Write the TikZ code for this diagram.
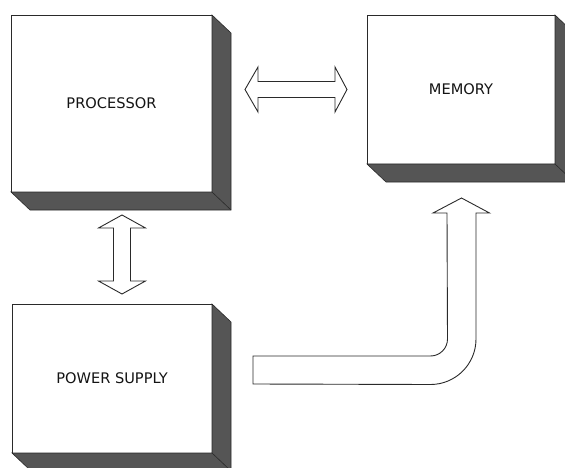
\documentclass[tikz,border=0pt]{standalone}
\usepackage{fontspec}
\setmainfont{DejaVu Sans}
\usepackage{tikz}
\usetikzlibrary{arrows.meta,calc}
\definecolor{sidegray}{HTML}{555555}
\definecolor{inkgray}{HTML}{2A2A2A}

\begin{document}
\begin{tikzpicture}[x=1pt,y=-1pt,
  unit/.style={draw=inkgray,fill=white,line width=0.9pt,outer sep=0pt,
    text=black!92,font=\fontsize{14.6}{18}\selectfont},
  side/.style={fill=sidegray,draw=inkgray,line width=0.6pt},
  fat/.style={draw=inkgray,fill=white,line width=0.9pt,line join=miter}]
  \clip (0,0) rectangle (565,468);
  % blocks
  \node[unit,minimum width=201pt,minimum height=177pt] (proc) at (111.5,103.5) {PROCESSOR};
  \node[unit,minimum width=188pt,minimum height=149pt] (mem) at (461,89.5) {MEMORY};
  \node[unit,minimum width=200pt,minimum height=149pt] (pwr) at (112,378.5) {POWER SUPPLY};
  \foreach \n in {proc,mem,pwr} {
    \draw[side] (\n.north east) -- ++(19,18) -- ($(\n.south east)+(19,18)$)
      -- ($(\n.south west)+(19,18)$) -- (\n.south west) -- (\n.south east) -- cycle;
    \draw[inkgray,line width=0.6pt] (\n.south east) -- ++(19,18);
  }
  % processor <-> memory
  \coordinate (pm1) at ($(proc.east |- mem.center)+(33,0)$);
  \coordinate (pm2) at ($(mem.west)+(-20,0)$);
  \draw[fat] (pm1) -- ++(13,-22.5) -- ++(0,14.5) -- ($(pm2)+(-12,-8)$) -- ++(0,-14.5)
    -- (pm2) -- ++(-12,22.5) -- ++(0,-14.5) -- ($(pm1)+(13,8)$) -- ++(0,14.5) -- cycle;
  % processor <-> power supply
  \coordinate (pp1) at ($(proc.south)+(10.5,23)$);
  \coordinate (pp2) at ($(pwr.north)+(10,-10)$);
  \draw[fat] (pp1) -- ++(23.5,13) -- ++(-15,0) -- ($(pp2)+(8.5,-13)$) -- ++(15,0)
    -- (pp2) -- ++(-23.5,-13) -- ++(15,0) -- ($(pp1)+(-8.5,13)$) -- ++(-15,0) -- cycle;
  % power supply -> memory
  \coordinate (bt) at ($(pwr.east)+(41,-8.5)$);
  \coordinate (bh) at ($(mem.south)+(0.5,34)$);
  \draw[fat] ($(bt)+(0,-14)$) -- ($(bh |- bt)+(-31,-14)$) arc[start angle=90,end angle=0,radius=17]
    -- ($(bh)+(-14.5,15)$) -- ++(-14,0) -- (bh) -- ++(28,15) -- ++(-13.5,0)
    -- ($(bh |- bt)+(14.5,-31)$) arc[start angle=0,end angle=90,radius=45.5] -- ($(bt)+(0,14)$) -- cycle;
\end{tikzpicture}
\end{document}
